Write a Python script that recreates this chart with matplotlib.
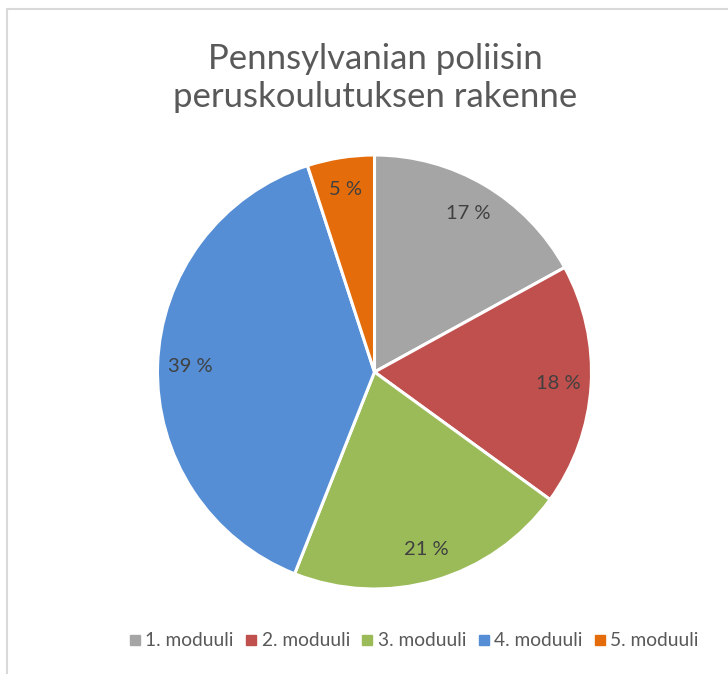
import matplotlib
matplotlib.use("Agg")
import matplotlib.pyplot as plt
from matplotlib.patches import Rectangle
from matplotlib.lines import Line2D

categories = ["1. moduuli", "2. moduuli", "3. moduuli", "4. moduuli", "5. moduuli"]
values = [17, 18, 21, 39, 5]
colors = ["#A5A5A5", "#C0504D", "#9BBB59", "#558ED5", "#E46C0A"]
title = "Pennsylvanian poliisin\nperuskoulutuksen rakenne"

W, H = 728, 674
fig = plt.figure(figsize=(W / 100, H / 100), dpi=100)
fig.patch.set_facecolor("white")

# border box (extends beyond right/bottom)
fig.add_artist(Rectangle((7 / W, -0.1), 1.2, (H - 9) / H + 0.1, transform=fig.transFigure,
                         fill=False, edgecolor="#D9D9D9", linewidth=1.5))

cx, cy, r = 374.5, H - 372, 217
ax = fig.add_axes([(cx - r) / W, (cy - r) / H, 2 * r / W, 2 * r / H])
wedges, texts, autotexts = ax.pie(
    values, colors=colors, startangle=90, counterclock=False,
    autopct=lambda p: f"{p:.0f} %", pctdistance=0.85,
    wedgeprops=dict(edgecolor="white", linewidth=2.2),
    textprops=dict(color="#404040", fontsize=14.5, family="Lato"))
ax.set_xlim(-1, 1)
ax.set_ylim(-1, 1)
ax.axis("off")

fig.text(375 / W, 1 - 78 / H, title, ha="center", va="center", fontsize=25,
         color="#595959", family="Lato", linespacing=1.2)

handles = [Line2D([], [], marker="s", linestyle="none", markersize=7.5,
                  markerfacecolor=c, markeredgecolor=c) for c in colors]
fig.legend(handles, categories, loc="center", bbox_to_anchor=(412 / W, 1 - 641 / H),
           ncol=5, frameon=False, handletextpad=0.05, columnspacing=0.4,
           handlelength=1.0, labelcolor="#595959", prop=dict(family="Lato", size=13.8))

fig.savefig("out.png", dpi=100)
